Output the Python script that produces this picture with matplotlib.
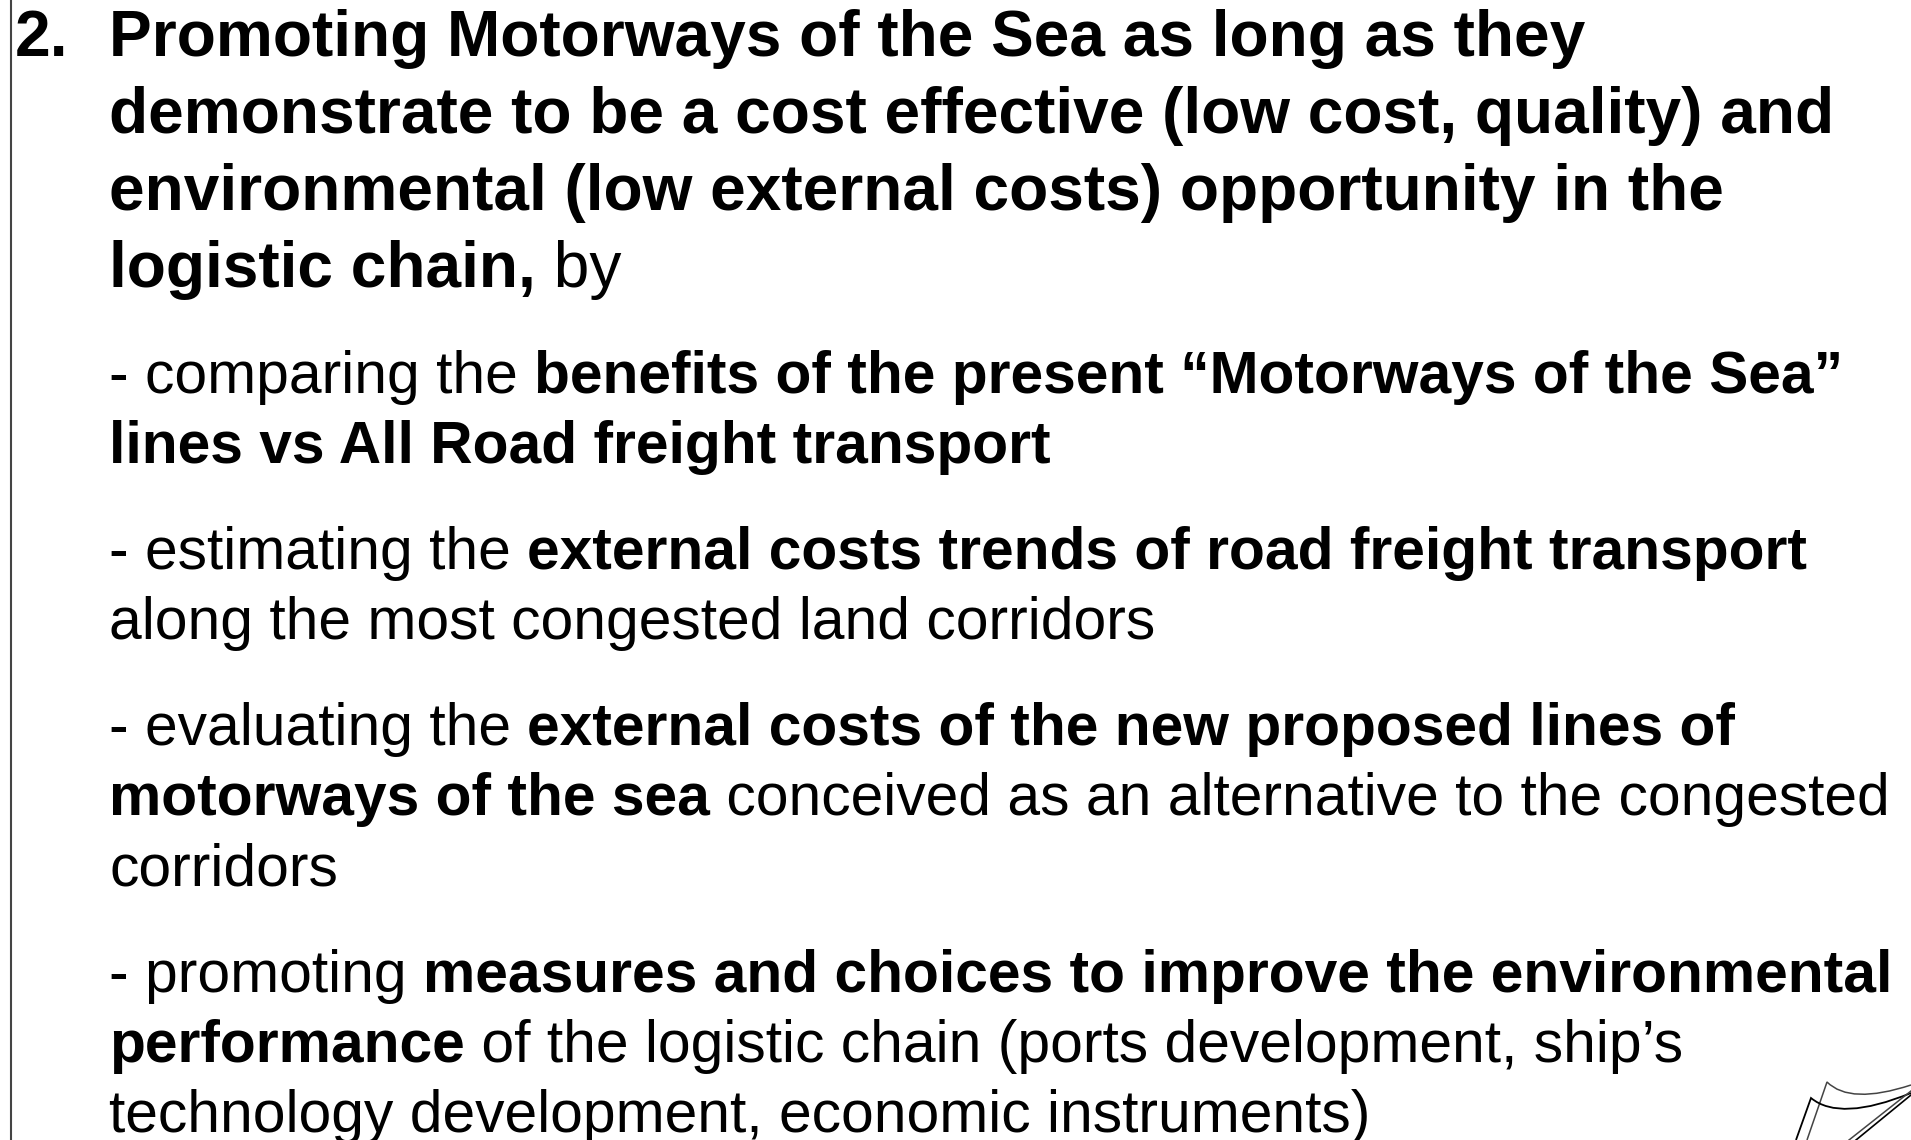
import matplotlib
matplotlib.use("Agg")
import matplotlib.pyplot as plt
from matplotlib.path import Path
from matplotlib.patches import PathPatch

W, H = 1911, 1140
plt.rcParams['font.family'] = ['Liberation Sans', 'DejaVu Sans']

number_label = "2."

heading_lines = [
    [("Promoting Motorways of the Sea as long as they", True)],
    [("demonstrate to be a cost effective (low cost, quality) and", True)],
    [("environmental (low external costs) opportunity in the", True)],
    [("logistic chain,", True), (" by", False)],
]
heading_baselines = [56, 133, 210, 287]

body_lines = [
    [("- comparing the ", False), ("benefits of the present \u201cMotorways of the Sea\u201d", True)],
    [("lines vs All Road freight transport", True)],
    [("- estimating the ", False), ("external costs trends of road freight transport", True)],
    [("along the most congested land corridors", False)],
    [("- evaluating the ", False), ("external costs of the new proposed lines of", True)],
    [("motorways of the sea", True), (" conceived as an alternative to the congested", False)],
    [("corridors", False)],
    [("- promoting ", False), ("measures and choices to improve the environmental", True)],
    [("performance", True), (" of the logistic chain (ports development, ship\u2019s", False)],
    [("technology development, economic instruments)", False)],
]
body_baselines = [393, 463, 569, 639, 745, 815, 885, 992, 1062, 1132]

fig = plt.figure(figsize=(W / 100, H / 100), dpi=100)
ax = fig.add_axes([0, 0, 1, 1])
ax.set_xlim(0, W)
ax.set_ylim(H, 0)
ax.axis('off')
renderer = fig.canvas.get_renderer()


def advance(text, size, weight):
    # trailing spaces get dropped when measuring, so pad with a dot
    t1 = ax.text(0, 0, text + ".", fontsize=size, fontweight=weight)
    t2 = ax.text(0, 0, ".", fontsize=size, fontweight=weight)
    w = t1.get_window_extent(renderer).width - t2.get_window_extent(renderer).width
    t1.remove()
    t2.remove()
    return w


def draw_line(runs, x, y, size):
    for text, bold in runs:
        weight = 'bold' if bold else 'normal'
        ax.text(x, y, text, fontsize=size, fontweight=weight, color='black', va='baseline', ha='left')
        x += advance(text, size, weight)


heading_size = 46.05
body_size = 42.3

ax.text(15, heading_baselines[0], number_label, fontsize=heading_size, fontweight='bold', va='baseline')
for runs, y in zip(heading_lines, heading_baselines):
    draw_line(runs, 109, y, heading_size)
for runs, y in zip(body_lines, body_baselines):
    draw_line(runs, 109, y, body_size)

# left border
ax.plot([10.5, 10.5], [0, H], color='#444444', lw=1.5)

# corner doodle
c3 = [Path.MOVETO, Path.LINETO, Path.CURVE3, Path.CURVE3]
ax.add_patch(PathPatch(Path([(1807, 1140), (1827, 1082), (1850, 1105), (1911, 1085)], c3),
                       fill=False, ec='#444444', lw=1.1))
ax.add_patch(PathPatch(Path([(1796, 1140), (1811, 1098), (1840, 1122), (1911, 1093)], c3),
                       fill=False, ec='black', lw=1.3))
ax.plot([1911, 1849], [1091, 1140], color='#444444', lw=1.1)
ax.plot([1911, 1856], [1095, 1140], color='black', lw=1.2)

fig.savefig("out.png", dpi=100)
